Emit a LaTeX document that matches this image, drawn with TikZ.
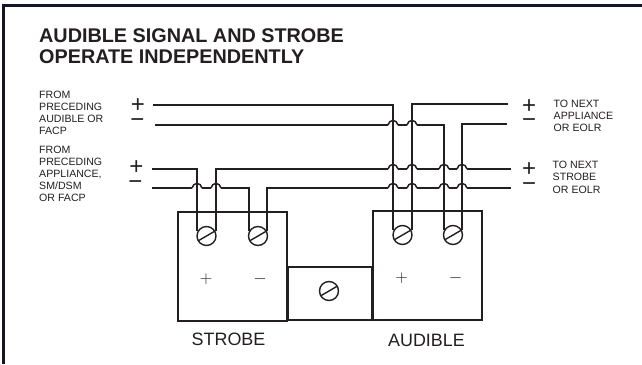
\documentclass[tikz,border=0pt]{standalone}
\usepackage{fontspec}
\setmainfont{Liberation Sans}
\usetikzlibrary{calc}
\definecolor{ink}{HTML}{231F20}
\definecolor{framec}{HTML}{14142B}
\tikzset{
  x=1pt,y=-1pt,
  wire/.style={draw=ink,line width=1.4pt,line join=miter},
  hopline/.style={draw=ink,line width=1.5pt},
  box/.style={draw=ink,line width=1.4pt,fill=white,inner sep=0pt},
  screw/.style={circle,draw=ink,line width=1.4pt,minimum size=19pt,inner sep=0pt,fill=white},
  lab/.style={font=\fontsize{10.6}{12.2}\selectfont,text=ink,align=left,anchor=north west,inner sep=0pt},
  titlelab/.style={font=\fontsize{19.8}{21}\selectfont\bfseries,text=ink,align=left,anchor=north west,inner sep=0pt},
  sign/.style={font=\fontsize{24}{24}\selectfont,text=ink,inner sep=0pt},
  thinsign/.style={font=\fontsize{18}{18}\selectfont,text=ink,inner sep=0pt},
  unitname/.style={font=\fontsize{17.9}{18}\selectfont,text=ink,inner sep=0pt},
}
\newcommand{\slotmark}[1]{\draw[ink,line width=1.4pt] ($(#1)+(-8.6,5)$) -- ($(#1)+(8.6,-5)$);}
\newcommand{\hopat}[2]{\draw[hopline] (#1-5,#2) .. controls (#1-4,#2-6) and (#1+4,#2-6) .. (#1+5,#2);}
\begin{document}
\begin{tikzpicture}
\useasboundingbox (0,0) rectangle (642,364);
\fill[white] (0,0) rectangle (642,364);
\draw[framec,line width=2.2pt] (3.5,364) -- (3.5,5.5) -- (642,5.5);

\node[titlelab] (title) at (39,28) {AUDIBLE SIGNAL AND STROBE\\OPERATE INDEPENDENTLY};
\node[lab] (l1) at (39,90.5) {FROM\\PRECEDING\\AUDIBLE OR\\FACP};
\node[lab] (l2) at (39,145.5) {FROM\\PRECEDING\\APPLIANCE,\\SM/DSM\\OR FACP};
\node[lab] (r1) at (553.5,99.5) {TO NEXT\\APPLIANCE\\OR EOLR};
\node[lab] (r2) at (552.5,161) {TO NEXT\\STROBE\\OR EOLR};

\node[sign] (p1) at (138,105.5) {+};
\node[sign] (m1) at (137.5,123.5) {\textminus};
\node[sign] (p2) at (136.5,167.5) {+};
\node[sign] (m2) at (135.5,185) {\textminus};
\node[sign] (p3) at (529,106.5) {+};
\node[sign] (m3) at (529,123.5) {\textminus};
\node[sign] (p4) at (529,169.5) {+};
\node[sign] (m4) at (529,187) {\textminus};

\node[box,minimum width=109pt,minimum height=109pt] (strobe) at (232.5,266.5) {};
\node[box,minimum width=109pt,minimum height=109pt] (audible) at (427.5,265.5) {};
\node[box,minimum width=84pt,minimum height=53pt] (mid) at (330,293.5) {};

\node[screw] (s1) at (206.5,236) {};
\node[screw] (s2) at (258,236) {};
\node[screw] (a1) at (402.5,235) {};
\node[screw] (a2) at (453,235) {};
\node[screw] (c) at (329,291) {};
\slotmark{s1}\slotmark{s2}\slotmark{a1}\slotmark{a2}\slotmark{c}

\coordinate (w1) at (153,105);
\coordinate (w2) at (155,125);
\coordinate (w3) at (152,169);
\coordinate (w4) at (152,188);
\coordinate (e1) at (508,104);
\coordinate (e2) at (507,124);
\coordinate (e3) at (511,169);
\coordinate (e4) at (511,188);

\draw[wire] (w1) -- (393,105) -- (393,230);
\draw[wire] (412,230) -- (412,104) -- (e1);
\draw[wire] (w3) -- (197,169) -- (197,231);
\draw[wire] (216,231) -- (216,169) -- (388,169);
\draw[wire] (398,169) -- (407,169);
\draw[wire] (417,169) -- (439,169);
\draw[wire] (449,169) -- (457,169);
\draw[wire] (467,169) -- (e3);
\hopat{393}{169}\hopat{412}{169}\hopat{444}{169}\hopat{462}{169}

\draw[wire] (w4) -- (192,188);
\draw[wire] (202,188) -- (211,188);
\draw[wire] (221,188) -- (249,188) -- (249,231);
\hopat{197}{188}\hopat{216}{188}

\draw[wire] (267,231) -- (267,188) -- (388,188);
\draw[wire] (398,188) -- (407,188);
\draw[wire] (417,188) -- (439,188);
\draw[wire] (449,188) -- (457,188);
\draw[wire] (467,188) -- (e4);
\hopat{393}{188}\hopat{412}{188}\hopat{444}{188}\hopat{462}{188}

\draw[wire] (w2) -- (388,125);
\draw[wire] (398,125) -- (407,125);
\draw[wire] (417,125) -- (444,125) -- (444,230);
\hopat{393}{125}\hopat{412}{125}
\draw[wire] (462,230) -- (462,124) -- (e2);

\node[thinsign] (sp) at (206,279.5) {$+$};
\node[thinsign] (sm) at (260,279) {$-$};
\node[thinsign] (ap) at (401.5,278.5) {$+$};
\node[thinsign] (am) at (455.5,278) {$-$};
\node[unitname] (sn) at (228.5,339) {STROBE};
\node[unitname] (an) at (426.5,340) {AUDIBLE};
\end{tikzpicture}
\end{document}
